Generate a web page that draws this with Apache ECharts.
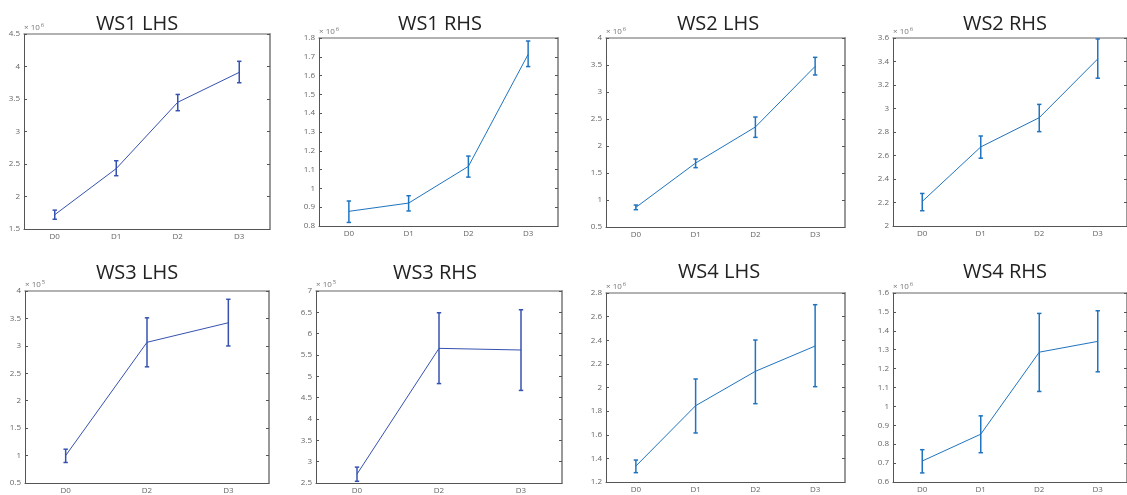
<!DOCTYPE html>
<html>
<head>
<meta charset="utf-8">
<script src="https://cdn.jsdelivr.net/npm/echarts@6/dist/echarts.min.js"></script>
<style>
  html, body { margin: 0; padding: 0; background: #fff; }
  #chart { width: 1127px; height: 495px; }
</style>
</head>
<body>
<div id="chart"></div>
<script>
// Mean values with lower / upper error-bar ends, in units of 10^exponent
const catsAll = ['D0', 'D1', 'D2', 'D3'];
const catsWS3 = ['D0', 'D2', 'D3'];

const ws1LhsMean = [1.72, 2.43, 3.45, 3.91];
const ws1LhsLow  = [1.65, 2.32, 3.32, 3.75];
const ws1LhsHigh = [1.79, 2.55, 3.57, 4.08];

const ws1RhsMean = [0.878, 0.922, 1.117, 1.713];
const ws1RhsLow  = [0.819, 0.880, 1.060, 1.648];
const ws1RhsHigh = [0.933, 0.961, 1.172, 1.784];

const ws2LhsMean = [0.864, 1.685, 2.352, 3.475];
const ws2LhsLow  = [0.821, 1.599, 2.160, 3.315];
const ws2LhsHigh = [0.907, 1.759, 2.537, 3.642];

const ws2RhsMean = [2.209, 2.673, 2.922, 3.422];
const ws2RhsLow  = [2.130, 2.577, 2.803, 3.258];
const ws2RhsHigh = [2.277, 2.766, 3.035, 3.592];

const ws3LhsMean = [1.00, 3.065, 3.421];
const ws3LhsLow  = [0.874, 2.618, 2.998];
const ws3LhsHigh = [1.116, 3.511, 3.849];

const ws3RhsMean = [2.709, 5.656, 5.617];
const ws3RhsLow  = [2.54, 4.83, 4.67];
const ws3RhsHigh = [2.872, 6.49, 6.56];

const ws4LhsMean = [1.335, 1.846, 2.137, 2.351];
const ws4LhsLow  = [1.279, 1.615, 1.863, 2.007];
const ws4LhsHigh = [1.386, 2.072, 2.402, 2.701];

const ws4RhsMean = [0.711, 0.853, 1.287, 1.344];
const ws4RhsLow  = [0.648, 0.755, 1.079, 1.183];
const ws4RhsHigh = [0.771, 0.950, 1.492, 1.506];

const titles = ['WS1 LHS', 'WS1 RHS', 'WS2 LHS', 'WS2 RHS', 'WS3 LHS', 'WS3 RHS', 'WS4 LHS', 'WS4 RHS'];
const exponents = [6, 6, 6, 6, 5, 5, 6, 6];
// y-axis limits and tick step for each panel
const yMins = [1.5, 0.8, 0.5, 2.0, 0.5, 2.5, 1.2, 0.6];
const yMaxs = [4.5, 1.8, 4.0, 3.6, 4.0, 7.0, 2.8, 1.6];
const ySteps = [0.5, 0.1, 0.5, 0.2, 0.5, 0.5, 0.2, 0.1];

const panels = [
  { cats: catsAll, mean: ws1LhsMean, low: ws1LhsLow, high: ws1LhsHigh },
  { cats: catsAll, mean: ws1RhsMean, low: ws1RhsLow, high: ws1RhsHigh },
  { cats: catsAll, mean: ws2LhsMean, low: ws2LhsLow, high: ws2LhsHigh },
  { cats: catsAll, mean: ws2RhsMean, low: ws2RhsLow, high: ws2RhsHigh },
  { cats: catsWS3, mean: ws3LhsMean, low: ws3LhsLow, high: ws3LhsHigh },
  { cats: catsWS3, mean: ws3RhsMean, low: ws3RhsLow, high: ws3RhsHigh },
  { cats: catsAll, mean: ws4LhsMean, low: ws4LhsLow, high: ws4LhsHigh },
  { cats: catsAll, mean: ws4RhsMean, low: ws4RhsLow, high: ws4RhsHigh }
];

// Layout of each axes box
const gridBoxes = [
  { left: 24,  top: 34,  width: 246, height: 195 },
  { left: 319, top: 38,  width: 239, height: 188 },
  { left: 606, top: 38,  width: 239, height: 189 },
  { left: 893, top: 38,  width: 239, height: 188 },
  { left: 25,  top: 291, width: 244, height: 193 },
  { left: 316, top: 291, width: 246, height: 194 },
  { left: 606, top: 293, width: 239, height: 189 },
  { left: 893, top: 293, width: 239, height: 189 }
];
const titleCenters = [132, 435, 713, 1000, 132, 430, 714, 1000];
const titleTops = [9, 9, 9, 9, 258, 258, 257, 257];

const darkBlue = '#3652b0';
const mBlue = '#1f74c0';
const lineColors = [darkBlue, mBlue, mBlue, mBlue, darkBlue, darkBlue, mBlue, mBlue];

const tickFont = 'Open Sans';
const axisDark = '#555555';
const axisLight = '#999999';

const grid = [], xAxis = [], yAxis = [], series = [], title = [];

panels.forEach((p, i) => {
  grid.push(Object.assign({ containLabel: false }, gridBoxes[i]));
  title.push({
    text: titles[i], left: titleCenters[i], top: titleTops[i], textAlign: 'center',
    textStyle: { fontFamily: 'Open Sans', fontSize: 20, fontWeight: 'normal', color: '#222' }
  });

  // bottom and top category axes
  xAxis.push({
    type: 'category', gridIndex: i, data: p.cats, boundaryGap: true, position: 'bottom',
    axisLine: { lineStyle: { color: axisDark, width: 1 } },
    axisTick: { inside: true, alignWithLabel: true, length: 3, lineStyle: { color: axisDark } },
    axisLabel: { fontSize: 8, color: '#666', margin: 4, fontFamily: tickFont }
  });
  xAxis.push({
    type: 'category', gridIndex: i, data: p.cats, boundaryGap: true, position: 'top',
    axisLine: { lineStyle: { color: axisLight, width: 1.5 } },
    axisTick: { inside: true, alignWithLabel: true, length: 3, lineStyle: { color: axisDark } },
    axisLabel: { show: false }
  });

  // left and right value axes
  yAxis.push({
    type: 'value', gridIndex: i, position: 'left',
    min: yMins[i], max: yMaxs[i], interval: ySteps[i],
    splitLine: { show: false },
    axisLine: { show: true, lineStyle: { color: axisDark, width: 1 } },
    axisTick: { show: true, inside: true, length: 3, lineStyle: { color: axisDark } },
    axisLabel: { fontSize: 8, color: '#666', margin: 4, fontFamily: tickFont },
    name: '\u00d7 10{s|' + exponents[i] + '}',
    nameLocation: 'end', nameGap: 1,
    nameTextStyle: {
      fontSize: 8, color: '#777', align: 'left', verticalAlign: 'bottom', fontFamily: tickFont,
      rich: { s: { fontSize: 6, color: '#777', verticalAlign: 'top', padding: [0, 0, 5, 1] } }
    }
  });
  yAxis.push({
    type: 'value', gridIndex: i, position: 'right',
    min: yMins[i], max: yMaxs[i], interval: ySteps[i],
    splitLine: { show: false },
    axisLine: { show: true, lineStyle: { color: axisLight, width: 2 } },
    axisTick: { show: true, inside: true, length: 3, lineStyle: { color: axisDark } },
    axisLabel: { show: false }
  });

  const col = lineColors[i];
  series.push({
    type: 'line', xAxisIndex: 2 * i, yAxisIndex: 2 * i,
    data: p.mean, symbol: 'none', silent: true,
    lineStyle: { color: col, width: 1 }
  });
  series.push({
    type: 'custom', xAxisIndex: 2 * i, yAxisIndex: 2 * i, silent: true,
    data: p.mean.map((m, k) => [k, p.low[k], p.high[k]]),
    encode: { x: 0, y: [1, 2] },
    renderItem: (params, api) => {
      const k = api.value(0);
      const lo = api.coord([k, api.value(1)]);
      const hi = api.coord([k, api.value(2)]);
      const cw = 2.2;
      const st = { stroke: col, lineWidth: 1.5 };
      return {
        type: 'group',
        children: [
          { type: 'line', shape: { x1: lo[0], y1: lo[1], x2: hi[0], y2: hi[1] }, style: st },
          { type: 'line', shape: { x1: lo[0] - cw, y1: lo[1], x2: lo[0] + cw, y2: lo[1] }, style: st },
          { type: 'line', shape: { x1: hi[0] - cw, y1: hi[1], x2: hi[0] + cw, y2: hi[1] }, style: st }
        ]
      };
    }
  });
});

const chart = echarts.init(document.getElementById('chart'), null, { renderer: 'canvas' });
chart.setOption({
  backgroundColor: '#ffffff',
  animation: false,
  title, grid, xAxis, yAxis, series
});
</script>
</body>
</html>
